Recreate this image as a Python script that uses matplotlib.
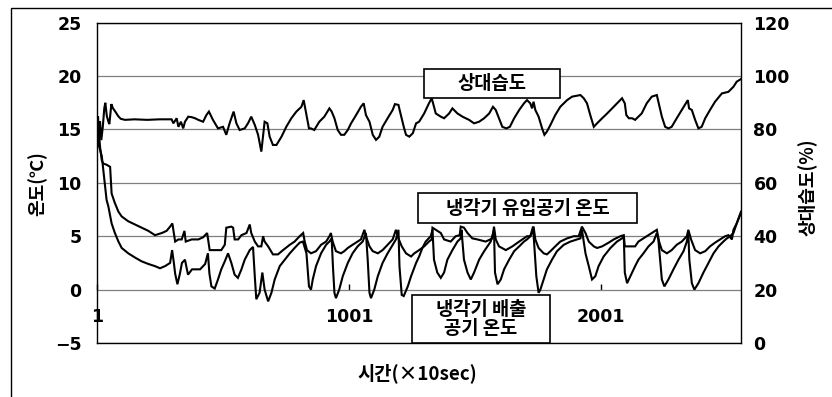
import matplotlib
matplotlib.use("Agg")
import matplotlib.pyplot as plt
from matplotlib.patches import Rectangle

# Relative humidity (%) vs. time step (x10 sec)
rh_points = [
    (1, 80), (5, 85), (9, 78), (13, 83), (18, 76), (24, 81), (30, 88), (34, 90), (40, 85), (46, 83),
    (50, 82), (58, 89.5), (64, 88), (75, 86.5), (85, 85), (95, 84), (112, 83.6), (150, 83.8), (200, 83.6),
    (250, 83.8), (297, 83.8), (304, 82.3), (317, 84.2), (324, 81), (334, 82.9), (343, 80.4), (350, 82.9),
    (363, 84.8), (377, 84.6), (390, 84.2), (403, 83.6),
    (422, 82.9), (435, 85.4), (445, 86.7), (461, 83.6), (481, 80.4), (501, 81), (514, 78), (527, 82.3),
    (543, 86.7), (554, 82.3), (567, 79.8), (587, 80.4), (600, 82.3), (613, 84.8), (627, 81.7), (640, 78),
    (653, 71.7), (666, 82.9), (677, 82.3), (686, 77.3), (699, 74.2), (713, 74.2), (733, 77.3), (752, 81),
    (772, 84.2), (792, 86.7), (812, 88.5), (821, 91), (832, 85.4), (842, 80.4),
    (850, 80.4), (863, 79.8), (883, 82.9), (903, 84.8), (923, 87.9), (932, 86.7), (943, 84.2), (956, 79.8),
    (969, 78), (982, 78), (996, 79.8), (1009, 82.3), (1029, 85.4), (1048, 88.5), (1059, 89.8), (1068, 85.4),
    (1082, 82.9), (1095, 78), (1108, 76.1), (1121, 77.3), (1134, 81), (1154, 84.2), (1174, 87.3),
    (1183, 89.5), (1197, 89.2), (1205, 86), (1218, 81), (1227, 78), (1240, 77.3), (1254, 78.6), (1267, 82.3),
    (1279, 82.9), (1299, 86), (1318, 89.8), (1329, 91.7), (1345, 86), (1365, 84.8), (1378, 84.2),
    (1398, 86), (1411, 87.9), (1431, 86), (1451, 84.8), (1477, 83.6), (1497, 82.3), (1517, 82.9),
    (1537, 84.2), (1557, 86), (1572, 88.5), (1583, 87.3), (1596, 84.2), (1609, 81), (1625, 80.4),
    (1639, 81), (1656, 84.2), (1676, 87.3), (1695, 89.8),
    (1707, 91), (1720, 89.8), (1727, 87.9), (1733, 90.4), (1740, 87.3), (1753, 84.8), (1767, 80.4),
    (1776, 78), (1786, 79.2), (1800, 81.7), (1819, 85.4), (1839, 88.5), (1866, 91), (1886, 92.3),
    (1919, 92.9), (1932, 91.7), (1945, 89.8), (1958, 85.4), (1972, 81), (1985, 82.3), (2005, 84.2),
    (2025, 86), (2051, 88.5), (2071, 90.4), (2084, 91.7), (2095, 89.8), (2101, 85.4), (2111, 84.2),
    (2124, 84.2),
    (2136, 83.6), (2162, 86), (2182, 89.8), (2202, 92.3), (2222, 92.9), (2231, 89.2), (2242, 84.8),
    (2255, 81), (2268, 80.4), (2281, 81), (2301, 84.2), (2321, 87.3), (2337, 89.8), (2345, 91),
    (2350, 87.9), (2361, 87.3), (2374, 83.6), (2387, 80.4), (2400, 81), (2414, 84.2), (2433, 87.3),
    (2453, 90.4), (2480, 93.5), (2506, 94.1), (2526, 96), (2539, 97.9), (2556, 98.9),
]

# Cooler inlet air temperature (deg C)
inlet_points = [
    (1, 15.5), (6, 15.3), (13, 13.4), (20, 12.1), (26, 11.8), (39, 11.7), (53, 11.5), (59, 9.0), (72, 8.1),
    (86, 7.3), (99, 6.85), (125, 6.4), (152, 6.1), (178, 5.8), (205, 5.5), (231, 5.1), (258, 5.3),
    (277, 5.5), (291, 5.9), (300, 6.2), (311, 4.5), (324, 4.7), (337, 4.7), (348, 5.5), (353, 4.5),
    (377, 4.7), (403, 4.7), (422, 4.9), (438, 5.3), (448, 3.7), (494, 3.7), (508, 4.2), (514, 5.8),
    (534, 5.9), (541, 5.8), (547, 4.7), (561, 4.7), (574, 5.1), (594, 5.3), (607, 6.1), (613, 5.3),
    (627, 4.5), (640, 4.05), (653, 4.05), (660, 5.0), (666, 4.5), (680, 4.05), (699, 3.3), (719, 3.3),
    (739, 3.7), (766, 4.2), (785, 4.5), (805, 5.0), (819, 5.3), (825, 4.5), (834, 3.7), (850, 3.4),
    (870, 3.6), (890, 4.2), (910, 4.5), (923, 5.0), (929, 5.3), (936, 4.5), (949, 3.6), (969, 3.4),
    (982, 3.6), (996, 3.9), (1015, 4.2), (1035, 4.5), (1048, 4.7), (1062, 5.6), (1068, 5.0), (1082, 4.05),
    (1095, 3.6), (1115, 3.4), (1134, 3.7), (1154, 4.2), (1174, 4.7), (1187, 5.6), (1197, 4.8),
    (1210, 4.05), (1227, 3.4), (1247, 3.1), (1260, 3.4), (1279, 3.7), (1299, 4.05), (1318, 4.5),
    (1329, 4.7), (1332, 5.8), (1345, 5.6), (1365, 5.3), (1378, 4.7), (1404, 4.5), (1424, 5.0),
    (1440, 5.1), (1444, 5.9), (1457, 5.8), (1471, 5.3), (1490, 4.8), (1510, 4.7), (1543, 4.5),
    (1570, 4.8), (1576, 5.9), (1583, 4.7), (1596, 4.05), (1623, 3.7), (1649, 4.05), (1676, 4.5),
    (1707, 5.0), (1720, 5.0), (1727, 5.3), (1733, 5.9), (1740, 4.7), (1753, 3.9), (1773, 3.4),
    (1786, 3.3), (1800, 3.6), (1819, 4.05), (1839, 4.5), (1866, 4.8), (1892, 5.0), (1912, 5.0),
    (1925, 5.9), (1939, 5.3), (1952, 4.5), (1972, 4.05), (1985, 3.9), (2005, 4.05), (2031, 4.4),
    (2051, 4.7), (2077, 5.0), (2091, 5.1), (2095, 4.05), (2136, 4.05), (2149, 4.5), (2162, 4.7),
    (2182, 5.0), (2202, 5.3), (2222, 5.6), (2231, 4.5), (2242, 3.7), (2262, 3.4), (2281, 3.7),
    (2301, 4.2), (2321, 4.5), (2341, 5.0), (2347, 5.6), (2358, 4.7), (2374, 3.7), (2394, 3.4),
    (2414, 3.6), (2433, 4.05), (2453, 4.4), (2473, 4.7), (2493, 5.0), (2506, 5.1), (2520, 4.7),
    (2526, 5.6), (2539, 6.2), (2549, 6.85), (2556, 7.3),
]

# Cooler outlet air temperature (deg C)
outlet_points = [
    (1, 15.0), (6, 13.7), (20, 12.5), (26, 11.2), (39, 8.4), (46, 7.8), (59, 6.2), (72, 5.3), (86, 4.5),
    (99, 3.9), (125, 3.4), (152, 3.0), (178, 2.65), (205, 2.4), (231, 2.2), (251, 2.0), (271, 2.2),
    (291, 2.5), (299, 3.7), (306, 2.5), (311, 1.5), (320, 0.5), (330, 1.5), (338, 2.5), (350, 2.8),
    (362, 1.4), (378, 1.9), (410, 1.9), (430, 2.4), (441, 3.4), (447, 1.5), (455, 0.3), (468, 0.1),
    (481, 0.95), (494, 1.9), (508, 2.65), (521, 3.4), (534, 2.5), (547, 1.4), (560, 1.1), (574, 1.9),
    (587, 2.8), (607, 3.7), (620, 4.0), (627, 1.25), (633, -0.9), (646, -0.3), (657, 1.6), (666, 0.0),
    (680, -1.1), (693, -0.3), (706, 0.95), (726, 2.2), (746, 2.8), (766, 3.4), (785, 3.9), (805, 4.4),
    (818, 4.5), (832, 3.4), (842, 0.3), (850, 0.0), (857, 0.95), (870, 2.2), (890, 3.4), (910, 4.2),
    (923, 4.5), (932, 4.8), (937, 2.2), (943, -0.3), (949, -0.8), (962, 0.0), (976, 1.25), (996, 2.5),
    (1015, 3.4), (1035, 4.05), (1055, 4.5), (1068, 5.3), (1075, 2.8), (1082, -0.3), (1088, -0.8),
    (1101, 0.0), (1115, 1.25), (1134, 2.5), (1154, 3.4), (1174, 4.2), (1187, 4.7), (1197, 5.6),
    (1201, 2.2), (1210, -0.5), (1218, -0.6), (1234, 0.3), (1247, 1.25), (1267, 2.5), (1279, 3.1),
    (1292, 3.9), (1305, 4.5), (1325, 5.0), (1332, 5.6), (1338, 2.8), (1351, 1.6), (1365, 1.1),
    (1378, 1.6), (1391, 2.8), (1411, 3.7), (1431, 4.5), (1444, 4.8), (1447, 5.6), (1457, 2.8),
    (1471, 1.6), (1484, 0.95), (1497, 1.6), (1517, 2.8), (1537, 3.6), (1563, 4.5), (1576, 5.6),
    (1580, 1.6), (1590, 0.5), (1603, 0.95), (1616, 1.9), (1636, 2.8), (1656, 3.6), (1676, 4.05),
    (1695, 4.5), (1707, 4.7), (1720, 5.0), (1731, 5.9), (1736, 4.05), (1744, 1.25), (1753, -0.3),
    (1760, 0.0), (1773, 0.95), (1786, 1.9), (1806, 2.8), (1826, 3.6), (1853, 4.2), (1879, 4.5),
    (1905, 4.7), (1919, 4.8), (1925, 5.6), (1939, 3.4), (1952, 2.2), (1965, 0.95), (1978, 1.25),
    (1991, 2.2), (2011, 3.1), (2038, 3.9), (2064, 4.5), (2084, 4.8), (2091, 5.0), (2095, 1.6),
    (2104, 0.6), (2117, 1.25), (2136, 2.2), (2149, 2.8), (2169, 3.4), (2189, 4.05), (2209, 4.5),
    (2222, 5.3), (2228, 4.7), (2235, 2.8), (2242, 0.95), (2252, 0.3), (2268, 0.95), (2288, 1.9),
    (2308, 2.8), (2328, 3.6), (2341, 4.5), (2347, 5.3), (2351, 2.8), (2361, 0.6), (2371, 0.0),
    (2387, 0.6), (2407, 1.6), (2427, 2.5), (2447, 3.4), (2467, 4.05), (2486, 4.5), (2500, 4.8),
    (2513, 5.0), (2526, 5.3), (2539, 6.2), (2556, 7.2),
]

temp_ticks = [-5, 0, 5, 10, 15, 20, 25]
rh_ticks = [0, 20, 40, 60, 80, 100, 120]
time_ticks = [1, 1001, 2001]
n_steps = 2556

plt.rcParams['font.family'] = ['Noto Sans CJK KR', 'DejaVu Sans']
num_font = dict(family='DejaVu Sans', weight='bold', size=12.5)
kr_font = dict(family=['Noto Sans CJK KR', 'DejaVu Sans'], weight='bold')

W, H = 832, 397
fig = plt.figure(figsize=(W / 100, H / 100), dpi=100)
ax = fig.add_axes([97 / W, 1 - 343 / H, 644 / W, (343 - 22.7) / H])

# outer frame of the chart area
fig.patches.append(Rectangle((11 / W, -0.1), 1.2, 1 - 8 / H + 0.1, transform=fig.transFigure,
                             fill=False, edgecolor='black', linewidth=1.0))

ax.set_xlim(1, n_steps)
ax.set_ylim(-5, 25)
ax.set_yticks(temp_ticks)
ax.set_yticklabels([str(t) if t >= 0 else '\u22125' for t in temp_ticks], fontdict=num_font)
ax.set_xticks([])
ax.yaxis.grid(True, color='#7f7f7f', linewidth=0.9)
ax.set_axisbelow(True)
ax.tick_params(axis='y', length=0, pad=11)
for s in ax.spines.values():
    s.set_color('black')
    s.set_linewidth(1.0)

ax2 = ax.twinx()
ax2.set_ylim(0, 120)
ax2.set_yticks(rh_ticks)
ax2.set_yticklabels([str(v) for v in rh_ticks], fontdict=num_font)
ax2.tick_params(axis='y', length=0, pad=9)
for s in ax2.spines.values():
    s.set_visible(False)

# time axis crossing at 0 deg C
sec = ax.secondary_xaxis(1 / 6)
sec.set_xticks(time_ticks)
sec.set_xticklabels([str(t) for t in time_ticks], fontdict=num_font)
sec.tick_params(axis='x', direction='in', length=4, width=1, pad=13, colors='black')
sec.spines['bottom'].set_visible(False)

t_in, v_in = zip(*inlet_points)
t_out, v_out = zip(*outlet_points)
t_rh, v_rh = zip(*rh_points)
line_kw = dict(color='black', linewidth=1.5, solid_joinstyle='miter')
ax.plot(t_in, v_in, **line_kw)
ax.plot(t_out, v_out, **line_kw)
ax2.plot(t_rh, v_rh, **line_kw)

# labels
fig.text(37 / W, 1 - 184 / H, '온도(℃)', rotation=90, ha='center', va='center', fontsize=13, **kr_font)
fig.text(808 / W, 1 - 187 / H, '상대습도(%)', rotation=90, ha='center', va='center', fontsize=13, **kr_font)
fig.text(417 / W, 1 - 373 / H, '시간(×10sec)', ha='center', va='center', fontsize=13.5, **kr_font)

# callout boxes
def callout(x0, y0, x1, y1, text):
    fig.patches.append(Rectangle((x0 / W, 1 - y1 / H), (x1 - x0) / W, (y1 - y0) / H,
                                 transform=fig.transFigure, facecolor='white', edgecolor='black',
                                 linewidth=1.2, zorder=5))
    fig.text((x0 + x1) / 2 / W, 1 - (y0 + y1) / 2 / H, text, ha='center', va='center',
             fontsize=13.5, linespacing=1.05, zorder=6, **kr_font)

callout(424, 69, 560, 98, '상대습도')
callout(418, 193, 637, 223, '냉각기 유입공기 온도')
callout(412, 295, 550, 343, '냉각기 배출\n공기 온도')

fig.savefig('out.png', dpi=100, facecolor='white')
